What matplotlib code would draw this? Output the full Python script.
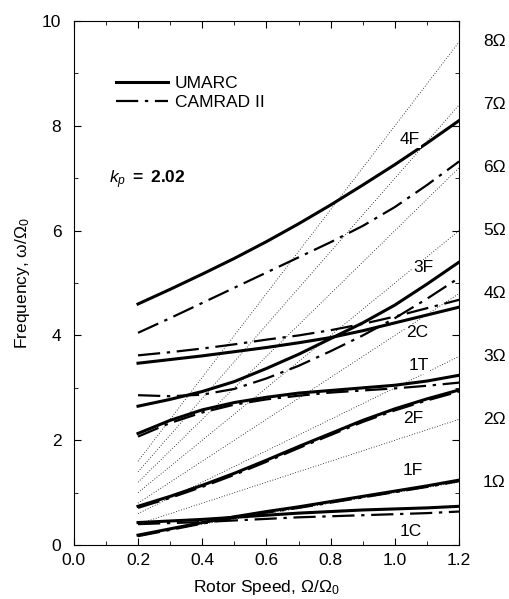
import numpy as np
import matplotlib
matplotlib.use("Agg")
import matplotlib.pyplot as plt
from matplotlib.ticker import MultipleLocator, FormatStrFormatter

plt.rcParams["font.family"] = ["Liberation Sans", "DejaVu Sans"]
plt.rcParams["mathtext.fontset"] = "custom"
plt.rcParams["mathtext.rm"] = "Liberation Sans"
plt.rcParams["mathtext.it"] = "Liberation Sans:italic"
plt.rcParams["mathtext.bf"] = "Liberation Sans:bold"

# rotor speed samples
speed = [0.2, 0.3, 0.4, 0.5, 0.6, 0.7, 0.8, 0.9, 1.0, 1.1, 1.2]

# UMARC frequencies
umarc_4f = [4.60, 4.88, 5.17, 5.47, 5.79, 6.13, 6.49, 6.87, 7.26, 7.67, 8.10]
umarc_3f = [2.65, 2.78, 2.93, 3.12, 3.37, 3.64, 3.94, 4.24, 4.58, 4.98, 5.40]
umarc_2c = [3.47, 3.54, 3.61, 3.69, 3.77, 3.86, 3.96, 4.09, 4.24, 4.39, 4.54]
umarc_1t = [2.13, 2.38, 2.58, 2.72, 2.82, 2.90, 2.95, 3.00, 3.05, 3.13, 3.24]
umarc_2f = [0.74, 0.93, 1.14, 1.37, 1.62, 1.88, 2.13, 2.38, 2.60, 2.79, 2.96]
umarc_1f = [0.19, 0.31, 0.43, 0.54, 0.64, 0.73, 0.83, 0.93, 1.03, 1.13, 1.24]
umarc_1c = [0.43, 0.46, 0.49, 0.53, 0.57, 0.61, 0.64, 0.67, 0.69, 0.71, 0.74]

# CAMRAD II frequencies
camrad_4f = [4.05, 4.33, 4.62, 4.91, 5.20, 5.49, 5.78, 6.09, 6.45, 6.87, 7.32]
camrad_3f = [2.86, 2.84, 2.87, 2.98, 3.18, 3.42, 3.70, 4.00, 4.33, 4.70, 5.10]
camrad_2c = [3.62, 3.68, 3.75, 3.83, 3.92, 4.00, 4.10, 4.22, 4.36, 4.52, 4.68]
camrad_1t = [2.07, 2.33, 2.53, 2.68, 2.78, 2.85, 2.91, 2.95, 2.99, 3.04, 3.10]
camrad_2f = [0.71, 0.90, 1.11, 1.34, 1.59, 1.85, 2.10, 2.35, 2.57, 2.76, 2.93]
camrad_1f = [0.17, 0.29, 0.41, 0.52, 0.62, 0.71, 0.81, 0.91, 1.01, 1.11, 1.22]
camrad_1c = [0.40, 0.42, 0.44, 0.47, 0.50, 0.53, 0.55, 0.57, 0.59, 0.61, 0.64]

harmonics = [1, 2, 3, 4, 5, 6, 7, 8]
harm_labels = ["1Ω", "2Ω", "3Ω", "4Ω", "5Ω", "6Ω", "7Ω", "8Ω"]

mode_names = ["4F", "3F", "2C", "1T", "2F", "1F", "1C"]
mode_x = [1.047, 1.088, 1.07, 1.073, 1.057, 1.057, 1.05]
mode_y = [7.73, 5.29, 4.06, 3.43, 2.42, 1.43, 0.25]

fs = 12.5

fig = plt.figure(figsize=(5.09, 5.99), dpi=100)
ax = fig.add_axes([0.145, 0.09, 0.757, 0.875])

# per-rev lines
xs = np.array([speed[0], speed[-1]])
for n in harmonics:
    ax.plot(xs, n * xs, color="black", lw=0.6, ls=(0, (1, 2.2)), zorder=1)

dash = (0, (10, 3, 1.5, 3))
umarc = [umarc_4f, umarc_3f, umarc_2c, umarc_1t, umarc_2f, umarc_1f, umarc_1c]
camrad = [camrad_4f, camrad_3f, camrad_2c, camrad_1t, camrad_2f, camrad_1f, camrad_1c]
for i, (u, c) in enumerate(zip(umarc, camrad)):
    ax.plot(speed, c, color="black", lw=1.6, ls=dash, zorder=2,
            label="CAMRAD II" if i == 0 else None)
    ax.plot(speed, u, color="black", lw=2.2, zorder=3,
            label="UMARC" if i == 0 else None)

for name, x, y in zip(mode_names, mode_x, mode_y):
    ax.text(x, y, name, fontsize=fs, ha="center", va="center",
            bbox=dict(facecolor="white", edgecolor="none", pad=0.5), zorder=4)

for n, lab in zip(harmonics, harm_labels):
    ax.text(1.31, 1.2 * n, lab, fontsize=fs, ha="center", va="center",
            clip_on=False)

ax.text(0.11, 6.97, r"$k_p$" + r"$\mathbf{\ =\ 2.02}$", fontsize=fs, va="center")

handles, labels = ax.get_legend_handles_labels()
ax.legend(handles[::-1], labels[::-1], loc="upper left",
          bbox_to_anchor=(0.07, 0.925), frameon=False, fontsize=fs,
          handlelength=3.0, handletextpad=0.35, labelspacing=0.2)

ax.set_xlim(0, 1.2)
ax.set_ylim(0, 10)
ax.xaxis.set_major_locator(MultipleLocator(0.2))
ax.xaxis.set_minor_locator(MultipleLocator(0.1))
ax.yaxis.set_major_locator(MultipleLocator(2))
ax.yaxis.set_minor_locator(MultipleLocator(1))
ax.xaxis.set_major_formatter(FormatStrFormatter("%.1f"))
ax.tick_params(which="both", direction="in", top=True, right=True,
               labelsize=fs)
ax.tick_params(which="major", length=5)
ax.tick_params(which="minor", length=3)
ax.tick_params(axis="y", pad=9)
ax.tick_params(axis="x", pad=6)

ax.set_xlabel(r"Rotor Speed, Ω/Ω$_0$", fontsize=fs, labelpad=7)
ax.set_ylabel(r"Frequency, ω/Ω$_0$", fontsize=fs, labelpad=7)

fig.savefig("out.png", dpi=100)
